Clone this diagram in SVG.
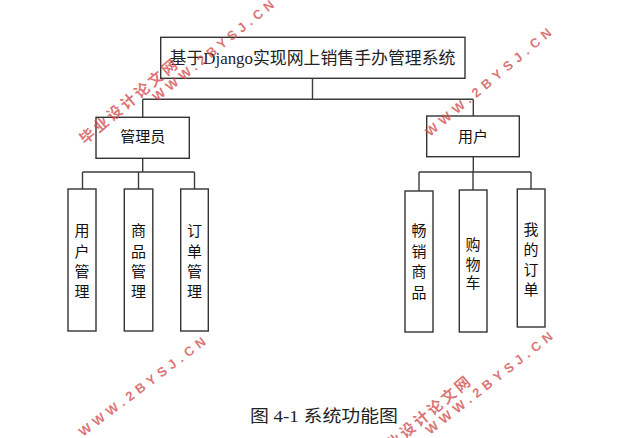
<svg xmlns="http://www.w3.org/2000/svg" width="626" height="438" viewBox="0 0 626 438">
<style>
.box{fill:#fff;stroke:#333;stroke-width:1.4}
.ln{fill:none;stroke:#3c3c3c;stroke-width:1.4}
.t{font-family:"Liberation Sans","Noto Sans CJK SC",sans-serif;font-size:15px;fill:#111;text-anchor:middle}
.ts{font-family:"Liberation Serif","Noto Sans CJK SC",serif;font-size:17px;fill:#222;text-anchor:middle}
.wm{font-family:"Liberation Sans","Noto Sans CJK SC",sans-serif;font-weight:bold;fill:#d04848;fill-opacity:0.75}
</style>
<rect width="626" height="438" fill="#fff"/>
<g id="connectors">
<path class="ln" d="M312.5 78V99.3M142.7 99.3H473.3M142.7 99.3V117.3M473.3 99.3V116"/>
<path class="ln" d="M142.7 158.3V172M82.5 172H194.5M82.5 172V189M138.5 172V189M194.5 172V189"/>
<path class="ln" d="M473.3 156.7V172M419 172H531M419 172V191M473 172V190M531 172V189"/>
</g>
<g id="root"><rect class="box" x="160.7" y="37.3" width="304.3" height="41"/><text class="ts" x="312.5" y="64" textLength="286" lengthAdjust="spacingAndGlyphs">基于Django实现网上销售手办管理系统</text></g>
<g id="admin"><rect class="box" x="96" y="117.3" width="93.3" height="41"/><text class="t" x="142.7" y="142">管理员</text></g>
<g id="user"><rect class="box" x="426.7" y="116" width="92.6" height="40.7"/><text class="t" x="473" y="142">用户</text></g>
<g id="n-user-mgmt"><rect class="box" x="68" y="189" width="28" height="142"/><text class="t" x="82" y="236">用</text><text class="t" x="82" y="256.5">户</text><text class="t" x="82" y="277">管</text><text class="t" x="82" y="297">理</text></g>
<g id="n-goods-mgmt"><rect class="box" x="124.3" y="189" width="28.5" height="142"/><text class="t" x="138.5" y="236">商</text><text class="t" x="138.5" y="256.5">品</text><text class="t" x="138.5" y="277">管</text><text class="t" x="138.5" y="297">理</text></g>
<g id="n-order-mgmt"><rect class="box" x="180.7" y="189" width="27.6" height="142"/><text class="t" x="194.5" y="236">订</text><text class="t" x="194.5" y="256.5">单</text><text class="t" x="194.5" y="277">管</text><text class="t" x="194.5" y="297">理</text></g>
<g id="n-hot"><rect class="box" x="405" y="191" width="28" height="141"/><text class="t" x="419" y="236">畅</text><text class="t" x="419" y="256.5">销</text><text class="t" x="419" y="277">商</text><text class="t" x="419" y="297.5">品</text></g>
<g id="n-cart"><rect class="box" x="459.3" y="190" width="27.7" height="142"/><text class="t" x="473" y="250">购</text><text class="t" x="473" y="269.5">物</text><text class="t" x="473" y="288">车</text></g>
<g id="n-myorder"><rect class="box" x="517.3" y="189" width="27.7" height="138"/><text class="t" x="531" y="234.5">我</text><text class="t" x="531" y="254.5">的</text><text class="t" x="531" y="274.5">订</text><text class="t" x="531" y="294.5">单</text></g>
<text class="ts" x="324" y="422" font-size="16" textLength="148" lengthAdjust="spacingAndGlyphs">图 4-1 系统功能图</text>
<g id="watermarks">
<text class="wm" font-size="13" transform="translate(157,102) rotate(-39)" textLength="152" lengthAdjust="spacing">WWW.2BYSJ.CN</text>
<text class="wm" font-size="15" transform="translate(85,145) rotate(-40)" textLength="122" lengthAdjust="spacing">毕业设计论文网</text>
<text class="wm" font-size="13" transform="translate(430,137) rotate(-40)" textLength="160" lengthAdjust="spacing">WWW.2BYSJ.CN</text>
<text class="wm" font-size="13" transform="translate(83,437) rotate(-37)" textLength="155" lengthAdjust="spacing">WWW.2BYSJ.CN</text>
<text class="wm" font-size="13" transform="translate(430,435) rotate(-38)" textLength="157" lengthAdjust="spacing">WWW.2BYSJ.CN</text>
<text class="wm" font-size="15" transform="translate(378,462) rotate(-40)" textLength="122" lengthAdjust="spacing">毕业设计论文网</text>
</g>
</svg>
